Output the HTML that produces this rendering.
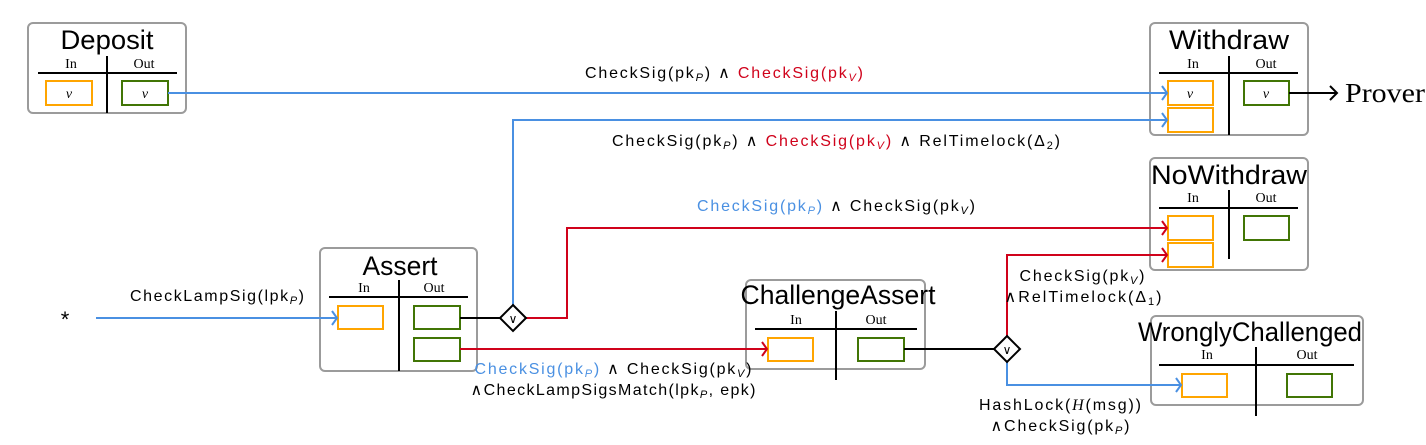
<!DOCTYPE html>
<html><head><meta charset="utf-8"><style>
html,body{margin:0;padding:0;background:#fff}
svg{display:block}
.t{font-family:"Liberation Sans",sans-serif;font-size:27px;fill:#000;text-anchor:middle}
.io{font-family:"Liberation Serif",serif;font-size:14px;fill:#000;text-anchor:middle}
.l{font-family:"Liberation Sans",sans-serif;font-size:16px;fill:#000;text-anchor:middle}
.b{fill:#4a90e2}.r{fill:#d0021b}
.box{fill:#fff;stroke:#9b9b9b;stroke-width:2}
.o{fill:none;stroke:#ffa500;stroke-width:2}
.g{fill:none;stroke:#417505;stroke-width:2}
.k{stroke:#000;stroke-width:2;fill:none}
.bl{stroke:#4a90e2;stroke-width:2;fill:none}
.rl{stroke:#d0021b;stroke-width:2;fill:none}
</style></head><body>
<svg width="1426" height="445" viewBox="0 0 1426 445" xmlns="http://www.w3.org/2000/svg">
<!-- Deposit -->
<rect class="box" x="28" y="23" width="158" height="90" rx="5"/>
<text class="t" x="107" y="49" textLength="93" lengthAdjust="spacingAndGlyphs">Deposit</text>
<text class="io" x="71" y="68">In</text><text class="io" x="144" y="68">Out</text>
<line class="k" x1="38" y1="73" x2="177" y2="73"/><line class="k" x1="107" y1="56" x2="107" y2="113"/>
<rect class="o" x="46" y="81" width="46" height="24"/><rect class="g" x="122" y="81" width="46" height="24"/>
<text class="io" x="69" y="98" font-style="italic">v</text><text class="io" x="145" y="98" font-style="italic">v</text>

<!-- Withdraw -->
<rect class="box" x="1150" y="23" width="158" height="112" rx="5"/>
<text class="t" x="1229" y="49" textLength="120" lengthAdjust="spacingAndGlyphs">Withdraw</text>
<text class="io" x="1193" y="68">In</text><text class="io" x="1266" y="68">Out</text>
<line class="k" x1="1159" y1="73" x2="1298" y2="73"/><line class="k" x1="1229" y1="56" x2="1229" y2="135"/>
<rect class="o" x="1168" y="81" width="45" height="24"/><rect class="o" x="1168" y="108" width="45" height="24"/>
<rect class="g" x="1244" y="81" width="45" height="24"/>
<text class="io" x="1190" y="98" font-style="italic">v</text><text class="io" x="1266" y="98" font-style="italic">v</text>
<line class="k" x1="1289" y1="93" x2="1336" y2="93"/><polyline class="k" points="1330,86 1337,93 1330,100"/>
<text x="1345" y="102" font-family="Liberation Serif,serif" font-size="27" textLength="80" lengthAdjust="spacingAndGlyphs">Prover</text>

<!-- NoWithdraw -->
<rect class="box" x="1150" y="158" width="158" height="112" rx="5"/>
<text class="t" x="1229" y="184" textLength="156" lengthAdjust="spacingAndGlyphs">NoWithdraw</text>
<text class="io" x="1193" y="202">In</text><text class="io" x="1266" y="202">Out</text>
<line class="k" x1="1159" y1="208" x2="1298" y2="208"/><line class="k" x1="1229" y1="190" x2="1229" y2="259"/>
<rect class="o" x="1168" y="216" width="45" height="24"/><rect class="o" x="1168" y="243" width="45" height="24"/>
<rect class="g" x="1244" y="216" width="45" height="24"/>

<!-- Assert -->
<rect class="box" x="320" y="248" width="157" height="123" rx="5"/>
<text class="t" x="400" y="275" textLength="75" lengthAdjust="spacingAndGlyphs">Assert</text>
<text class="io" x="364" y="292">In</text><text class="io" x="434" y="292">Out</text>
<line class="k" x1="329" y1="297" x2="468" y2="297"/><line class="k" x1="399" y1="280" x2="399" y2="371"/>
<rect class="o" x="338" y="306" width="45" height="23"/>
<rect class="g" x="414" y="306" width="46" height="23"/><rect class="g" x="414" y="338" width="46" height="23"/>

<!-- ChallengeAssert -->
<rect class="box" x="746" y="280" width="179" height="89" rx="5"/>
<text class="t" x="838" y="304" textLength="195" lengthAdjust="spacingAndGlyphs">ChallengeAssert</text>
<text class="io" x="796" y="324">In</text><text class="io" x="876" y="324">Out</text>
<line class="k" x1="755" y1="329" x2="917" y2="329"/><line class="k" x1="836" y1="311" x2="836" y2="380"/>
<rect class="o" x="768" y="338" width="45" height="23"/><rect class="g" x="858" y="338" width="46" height="23"/>

<!-- WronglyChallenged -->
<rect class="box" x="1151" y="316" width="212" height="89" rx="5"/>
<text class="t" x="1250" y="341" textLength="224" lengthAdjust="spacingAndGlyphs">WronglyChallenged</text>
<text class="io" x="1207" y="359">In</text><text class="io" x="1307" y="359">Out</text>
<line class="k" x1="1159" y1="365" x2="1354" y2="365"/><line class="k" x1="1256" y1="347" x2="1256" y2="416"/>
<rect class="o" x="1182" y="374" width="45" height="23"/><rect class="g" x="1287" y="374" width="45" height="23"/>

<!-- connectors -->
<text x="65" y="327" font-family="Liberation Sans,sans-serif" font-size="22" text-anchor="middle">*</text>
<line class="bl" x1="96" y1="318" x2="337" y2="318"/><polyline class="bl" points="332,311 337,318 332,325"/>
<line class="bl" x1="168" y1="93" x2="1167" y2="93"/><polyline class="bl" points="1162,86 1167,93 1162,100"/>
<line class="k" x1="460" y1="318" x2="500" y2="318"/>
<polyline class="bl" points="513,305 513,120 1167,120"/><polyline class="bl" points="1162,113 1167,120 1162,127"/>
<polyline class="rl" points="526,318 567,318 567,228 1167,228"/><polyline class="rl" points="1162,221 1167,228 1162,235"/>
<line class="rl" x1="460" y1="349" x2="767" y2="349"/><polyline class="rl" points="762,342 767,349 762,356"/>
<polygon points="513,305 526,318 513,331 500,318" fill="#fff" stroke="#000" stroke-width="2"/>
<text x="513" y="323" font-family="DejaVu Sans,sans-serif" font-size="12" text-anchor="middle">∨</text>
<line class="k" x1="904" y1="349" x2="994" y2="349"/>
<polyline class="rl" points="1007,336 1007,255 1167,255"/><polyline class="rl" points="1162,248 1167,255 1162,262"/>
<polyline class="bl" points="1007,362 1007,385 1181,385"/><polyline class="bl" points="1176,378 1181,385 1176,392"/>
<polygon points="1007,336 1020,349 1007,362 994,349" fill="#fff" stroke="#000" stroke-width="2"/>
<text x="1007" y="354" font-family="DejaVu Sans,sans-serif" font-size="12" text-anchor="middle">∨</text>

<!-- labels -->
<text class="l" x="217" y="301" textLength="174" lengthAdjust="spacing">CheckLampSig(lpk<tspan font-size="11" font-style="italic" dy="3">P</tspan><tspan dy="-3">)</tspan></text>
<text class="l" x="724" y="78" textLength="278" lengthAdjust="spacing">CheckSig(pk<tspan font-size="11" font-style="italic" dy="3">P</tspan><tspan dy="-3">) ∧ </tspan><tspan class="r">CheckSig(pk<tspan font-size="11" font-style="italic" dy="3">V</tspan><tspan dy="-3">)</tspan></tspan></text>
<text class="l" x="836" y="146" textLength="448" lengthAdjust="spacing">CheckSig(pk<tspan font-size="11" font-style="italic" dy="3">P</tspan><tspan dy="-3">) ∧ </tspan><tspan class="r">CheckSig(pk<tspan font-size="11" font-style="italic" dy="3">V</tspan><tspan dy="-3">)</tspan></tspan> ∧ RelTimelock(Δ<tspan font-size="11" dy="3">2</tspan><tspan dy="-3">)</tspan></text>
<text class="l" x="836" y="211" textLength="278" lengthAdjust="spacing"><tspan class="b">CheckSig(pk<tspan font-size="11" font-style="italic" dy="3">P</tspan><tspan dy="-3">)</tspan></tspan> ∧ CheckSig(pk<tspan font-size="11" font-style="italic" dy="3">V</tspan><tspan dy="-3">)</tspan></text>
<text class="l" x="613" y="374" textLength="277" lengthAdjust="spacing"><tspan class="b">CheckSig(pk<tspan font-size="11" font-style="italic" dy="3">P</tspan><tspan dy="-3">)</tspan></tspan> ∧ CheckSig(pk<tspan font-size="11" font-style="italic" dy="3">V</tspan><tspan dy="-3">)</tspan></text>
<text class="l" x="613" y="395" textLength="285" lengthAdjust="spacing">∧CheckLampSigsMatch(lpk<tspan font-size="11" font-style="italic" dy="3">P</tspan><tspan dy="-3">, epk)</tspan></text>
<text class="l" x="1082" y="281" textLength="125" lengthAdjust="spacing">CheckSig(pk<tspan font-size="11" font-style="italic" dy="3">V</tspan><tspan dy="-3">)</tspan></text>
<text class="l" x="1083" y="302" textLength="157" lengthAdjust="spacing">∧RelTimelock(Δ<tspan font-size="11" dy="3">1</tspan><tspan dy="-3">)</tspan></text>
<text class="l" x="1060" y="410" textLength="162" lengthAdjust="spacing">HashLock(<tspan font-style="italic" font-family="Liberation Serif,serif">H</tspan>(msg))</text>
<text class="l" x="1060" y="431" textLength="139" lengthAdjust="spacing">∧CheckSig(pk<tspan font-size="11" font-style="italic" dy="3">P</tspan><tspan dy="-3">)</tspan></text>
</svg>
</body></html>
